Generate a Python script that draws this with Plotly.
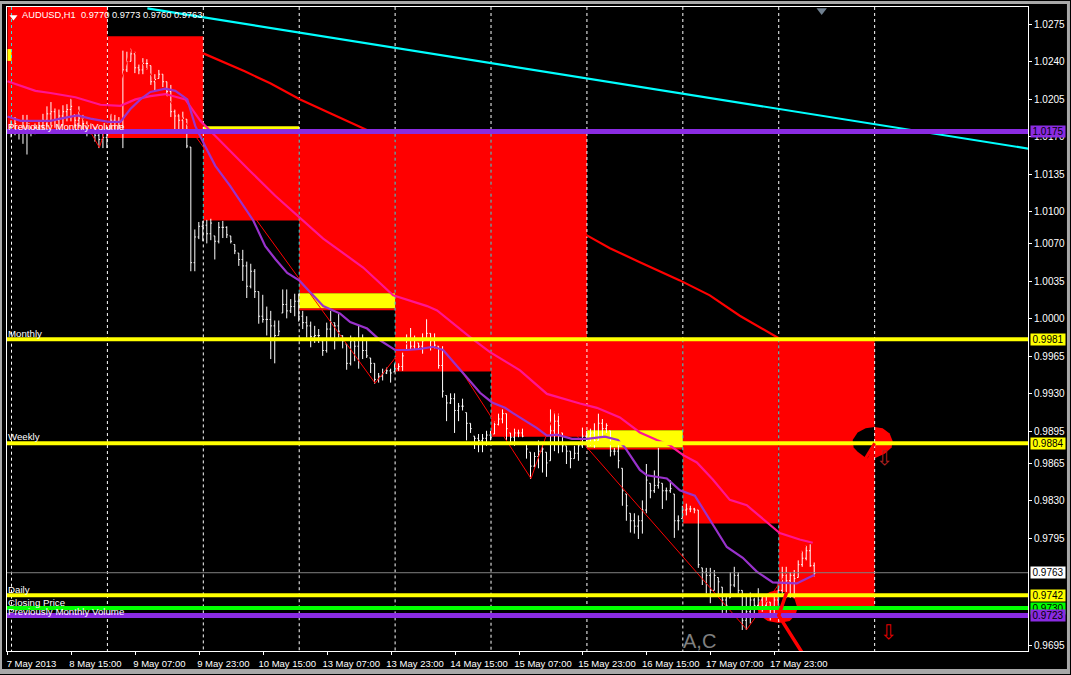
import plotly.graph_objects as go

# ---------- hourly bars ----------
bar_high = [
 1.0186,1.0189,1.0178,1.0191,1.0191,1.0180,1.0183,1.0185,1.0192,1.0199,
 1.0203,1.0197,1.0196,1.0200,1.0201,1.0206,1.0191,1.0199,1.0191,1.0185,
 1.0183,1.0180,1.0177,1.0175,1.0180,1.0192,1.0191,1.0189,1.0251,1.0250,
 1.0253,1.0250,1.0238,1.0244,1.0243,1.0237,1.0229,1.0233,1.0229,1.0222,
 1.0219,1.0196,1.0192,1.0194,1.0187,1.0161,1.0084,1.0091,1.0092,1.0093,
 1.0094,1.0078,1.0091,1.0092,1.0087,1.0078,1.0070,1.0062,1.0065,1.0054,
 1.0052,1.0047,1.0026,1.0023,1.0012,1.0008,0.9999,0.9999,1.0028,1.0028,
 1.0019,1.0024,1.0024,1.0008,1.0003,0.9998,0.9994,0.9991,0.9980,0.9997,
 1.0008,0.9997,1.0005,0.9985,0.9977,0.9985,0.9983,0.9994,0.9986,0.9980,
 0.9964,0.9959,0.9950,0.9954,0.9955,0.9954,0.9959,0.9959,0.9969,0.9986,
 0.9992,0.9985,0.9978,0.9987,1.0001,0.9987,0.9987,0.9975,0.9975,0.9929,
 0.9931,0.9931,0.9922,0.9926,0.9913,0.9903,0.9891,0.9893,0.9893,0.9896,
 0.9896,0.9905,0.9912,0.9916,0.9912,0.9894,0.9898,0.9897,0.9898,0.9884,
 0.9876,0.9876,0.9887,0.9884,0.9876,0.9916,0.9914,0.9912,0.9894,0.9882,
 0.9877,0.9882,0.9885,0.9899,0.9896,0.9898,0.9903,0.9912,0.9907,0.9903,
 0.9896,0.9880,0.9887,0.9861,0.9837,0.9819,0.9819,0.9817,0.9831,0.9865,
 0.9847,0.9859,0.9880,0.9847,0.9843,0.9850,0.9837,0.9817,0.9826,0.9828,
 0.9826,0.9824,0.9822,0.9768,0.9768,0.9768,0.9766,0.9759,0.9750,0.9741,
 0.9764,0.9769,0.9764,0.9747,0.9741,0.9745,0.9740,0.9749,0.9741,0.9741,
 0.9736,0.9744,0.9754,0.9769,0.9769,0.9764,0.9766,0.9775,0.9784,0.9789,
 0.9790,0.9773]
bar_low = [
 1.0170,1.0172,1.0168,1.0164,1.0154,1.0171,1.0173,1.0175,1.0177,1.0180,
 1.0181,1.0179,1.0177,1.0181,1.0185,1.0185,1.0179,1.0179,1.0177,1.0171,
 1.0173,1.0166,1.0160,1.0160,1.0160,1.0175,1.0177,1.0175,1.0160,1.0231,
 1.0241,1.0230,1.0229,1.0229,1.0233,1.0219,1.0214,1.0225,1.0217,1.0208,
 1.0189,1.0175,1.0175,1.0175,1.0160,1.0045,1.0045,1.0075,1.0073,1.0071,
 1.0074,1.0056,1.0071,1.0076,1.0076,1.0071,1.0061,1.0050,1.0036,1.0020,
 1.0029,1.0020,0.9996,0.9997,0.9985,0.9963,0.9959,0.9985,1.0006,1.0001,
 1.0006,1.0003,0.9998,0.9991,0.9983,0.9974,0.9978,0.9978,0.9966,0.9969,
 0.9982,0.9972,0.9983,0.9973,0.9953,0.9957,0.9961,0.9954,0.9963,0.9964,
 0.9950,0.9940,0.9941,0.9943,0.9949,0.9941,0.9951,0.9952,0.9952,0.9971,
 0.9972,0.9972,0.9972,0.9968,0.9982,0.9971,0.9973,0.9954,0.9927,0.9905,
 0.9921,0.9894,0.9905,0.9915,0.9887,0.9894,0.9879,0.9876,0.9876,0.9882,
 0.9887,0.9893,0.9901,0.9903,0.9887,0.9884,0.9882,0.9890,0.9890,0.9870,
 0.9851,0.9862,0.9861,0.9857,0.9853,0.9868,0.9877,0.9875,0.9876,0.9865,
 0.9861,0.9870,0.9868,0.9880,0.9885,0.9882,0.9880,0.9887,0.9891,0.9894,
 0.9872,0.9873,0.9861,0.9826,0.9812,0.9801,0.9800,0.9795,0.9800,0.9819,
 0.9833,0.9838,0.9842,0.9823,0.9831,0.9838,0.9796,0.9803,0.9814,0.9817,
 0.9820,0.9819,0.9768,0.9752,0.9744,0.9735,0.9747,0.9741,0.9726,0.9726,
 0.9740,0.9750,0.9744,0.9710,0.9710,0.9716,0.9722,0.9731,0.9727,0.9731,
 0.9719,0.9722,0.9733,0.9744,0.9740,0.9740,0.9740,0.9759,0.9769,0.9775,
 0.9769,0.9760]
bar_close = [
 1.0177,1.0183,1.0175,1.0185,1.0177,1.0175,1.0179,1.0181,1.0186,1.0192,
 1.0194,1.0186,1.0190,1.0194,1.0196,1.0199,1.0186,1.0188,1.0183,1.0177,
 1.0177,1.0172,1.0168,1.0170,1.0173,1.0186,1.0185,1.0181,1.0233,1.0241,
 1.0248,1.0235,1.0233,1.0239,1.0239,1.0222,1.0224,1.0229,1.0222,1.0213,
 1.0194,1.0190,1.0186,1.0188,1.0162,1.0053,1.0077,1.0087,1.0088,1.0080,
 1.0090,1.0073,1.0086,1.0086,1.0079,1.0073,1.0064,1.0056,1.0050,1.0031,
 1.0045,1.0026,1.0003,1.0000,1.0000,0.9994,0.9985,0.9989,1.0014,1.0008,
 1.0012,1.0017,1.0003,0.9997,0.9994,0.9984,0.9985,0.9985,0.9971,0.9991,
 0.9997,0.9994,0.9989,0.9980,0.9959,0.9980,0.9975,0.9982,0.9971,0.9966,
 0.9959,0.9944,0.9947,0.9950,0.9952,0.9950,0.9954,0.9956,0.9966,0.9982,
 0.9975,0.9982,0.9975,0.9980,0.9987,0.9980,0.9976,0.9957,0.9933,0.9922,
 0.9926,0.9915,0.9919,0.9919,0.9903,0.9898,0.9889,0.9887,0.9889,0.9892,
 0.9890,0.9902,0.9907,0.9912,0.9898,0.9890,0.9894,0.9894,0.9891,0.9879,
 0.9863,0.9872,0.9877,0.9879,0.9866,0.9896,0.9905,0.9901,0.9882,0.9877,
 0.9870,0.9875,0.9882,0.9891,0.9891,0.9894,0.9887,0.9903,0.9898,0.9901,
 0.9877,0.9877,0.9868,0.9840,0.9826,0.9812,0.9807,0.9812,0.9822,0.9850,
 0.9840,0.9845,0.9848,0.9840,0.9840,0.9842,0.9812,0.9812,0.9822,0.9823,
 0.9823,0.9822,0.9771,0.9764,0.9761,0.9747,0.9761,0.9755,0.9738,0.9733,
 0.9752,0.9761,0.9747,0.9719,0.9727,0.9738,0.9733,0.9738,0.9733,0.9736,
 0.9729,0.9738,0.9747,0.9761,0.9756,0.9761,0.9758,0.9771,0.9777,0.9784,
 0.9770,0.9763]
bar_open = [
 1.0180,1.0177,1.0178,1.0175,1.0185,1.0177,1.0175,1.0179,1.0181,1.0186,
 1.0192,1.0194,1.0186,1.0190,1.0194,1.0196,1.0191,1.0186,1.0188,1.0183,
 1.0177,1.0177,1.0172,1.0168,1.0170,1.0175,1.0186,1.0185,1.0181,1.0233,
 1.0241,1.0248,1.0235,1.0233,1.0239,1.0237,1.0222,1.0225,1.0229,1.0222,
 1.0213,1.0194,1.0190,1.0186,1.0187,1.0161,1.0053,1.0077,1.0087,1.0088,
 1.0080,1.0078,1.0073,1.0086,1.0086,1.0078,1.0070,1.0062,1.0056,1.0050,
 1.0031,1.0045,1.0026,1.0003,1.0000,1.0000,0.9994,0.9985,1.0006,1.0014,
 1.0008,1.0012,1.0017,1.0003,0.9997,0.9994,0.9984,0.9985,0.9980,0.9971,
 0.9991,0.9997,0.9994,0.9985,0.9977,0.9959,0.9980,0.9975,0.9982,0.9971,
 0.9964,0.9959,0.9944,0.9947,0.9950,0.9952,0.9951,0.9954,0.9956,0.9971,
 0.9982,0.9975,0.9978,0.9975,0.9982,0.9987,0.9980,0.9975,0.9957,0.9929,
 0.9922,0.9926,0.9915,0.9919,0.9913,0.9903,0.9891,0.9889,0.9887,0.9889,
 0.9892,0.9893,0.9902,0.9907,0.9912,0.9894,0.9890,0.9894,0.9894,0.9884,
 0.9876,0.9863,0.9872,0.9877,0.9876,0.9868,0.9896,0.9905,0.9894,0.9882,
 0.9877,0.9870,0.9875,0.9882,0.9891,0.9891,0.9894,0.9887,0.9903,0.9898,
 0.9896,0.9877,0.9877,0.9861,0.9837,0.9819,0.9812,0.9807,0.9812,0.9822,
 0.9847,0.9840,0.9845,0.9847,0.9840,0.9840,0.9837,0.9812,0.9814,0.9822,
 0.9823,0.9823,0.9822,0.9768,0.9764,0.9761,0.9747,0.9759,0.9750,0.9738,
 0.9740,0.9752,0.9761,0.9747,0.9719,0.9727,0.9738,0.9733,0.9738,0.9733,
 0.9736,0.9729,0.9738,0.9747,0.9761,0.9756,0.9761,0.9759,0.9771,0.9777,
 0.9784,0.9770]

# ---------- moving averages and trend lines: bar number, price ----------
pink_x = [-1,2.25,6,9.75,16,22.25,27.25,31,34.75,38.5,43.5,47.25,53.5,59.75,66,72.25,78,88,95.5,104,106.5,
          114.75,119.75,127.25,134,142.25,146.5,152.25,157.25,161.5,164.75,168,171.5,175.5,179.75,184,189,192.25,197.25,200.5]
pink_y = [1.0222,1.0218,1.0213,1.0211,1.0207,1.0200,1.0199,1.0205,1.0208,1.0210,1.0205,1.0185,1.0161,1.0138,1.0115,1.0094,1.0075,1.0048,1.0022,1.0012,1.0008,
          0.9983,0.9969,0.9952,0.9930,0.9921,0.9917,0.9908,0.9894,0.9887,0.9882,0.9873,0.9866,0.9850,0.9831,0.9826,0.9810,0.9800,0.9794,0.9791]
violet_x = [-1,2.25,5.5,9.75,13.5,16.5,19.75,24.25,27.25,29.75,32.25,34.75,38.5,41,44,46,48.5,51,54.75,57.25,60.5,63.5,66,69,72,74.75,78,82.25,84.75,89,92.25,96,99,102.25,105.5,108,
            113,117.25,120.25,123.5,125.5,131.5,134,136.5,140.25,144,148.5,151.75,153.5,157.25,159,164,167.25,171,175.5,179,183,186.5,190.5,196.5,201]
violet_y = [1.0189,1.0185,1.0185,1.0185,1.0188,1.0190,1.0187,1.0184,1.0184,1.0196,1.0205,1.0212,1.0215,1.0213,1.0205,1.0180,1.0161,1.0143,1.0124,1.0110,1.0092,1.0068,1.0056,1.0043,1.0036,1.0025,1.0012,1.0005,0.9997,0.9991,0.9980,0.9971,0.9971,0.9972,0.9974,0.9971,
            0.9949,0.9931,0.9922,0.9917,0.9912,0.9898,0.9891,0.9892,0.9888,0.9888,0.9890,0.9887,0.9880,0.9859,0.9854,0.9851,0.9840,0.9835,0.9808,0.9787,0.9777,0.9764,0.9754,0.9753,0.9761]
slow_x = [48,53.5,58.5,64.75,72.25,79.75,89.75,144,149.75,157.25,167.25,174.75,182.25,192]
slow_y = [1.0248,1.0239,1.0231,1.0220,1.0205,1.0192,1.0175,1.0078,1.0066,1.0053,1.0036,1.0022,1.0003,0.9982]
zigzag_x = [15,22,30,91,104,130,136,184,199]
zigzag_y = [1.0206,1.0160,1.0253,0.9940,1.0001,0.9851,0.9914,0.9710,0.9789]
cyan_x = [34,254.5]
cyan_y = [1.0290,1.0159]
arrow_x = [197.75,192,194]
arrow_y = [0.9689,0.9723,0.9745]
arrow2_x = [216,213.75]
arrow2_y = [0.9884,0.9870]

# ---------- horizontal levels ----------
level_names = ["Previously Monthly Volume","Monthly","Weekly","Daily","Closing Price","Previously Monthly Volume"]
level_prices = [1.0175,0.9981,0.9884,0.9742,0.9730,0.9723]
level_colors = ["#8a2be2","#ffff00","#ffff00","#ffff00","#00ff00","#8a2be2"]
level_widths = [5,4,4,4,4,5]
level_label_y = [1.0180,0.9986,0.9890,0.9747,0.9735,0.9727]
current_price = 0.9763

# ---------- session boxes: first bar, last bar, low, high ----------
red_start = [-1,24,48,72,96,120,144,168,192,72,144]
red_end   = [24,48,72,96,120,144,168,192,216,96,168]
red_low   = [1.0173,1.0169,1.0092,1.0024,0.9951,0.9890,0.9896,0.9809,0.9730,1.0008,0.9878]
red_high  = [1.0300,1.0264,1.0176,1.0176,1.0176,1.0176,0.9981,0.9981,0.9981,1.0010,0.9880]
yel_start = [-1,48,72,144]
yel_end   = [0,72,96,168]
yel_low   = [1.0241,1.0175,1.0010,0.9880]
yel_high  = [1.0252,1.0180,1.0024,0.9896]

# ---------- sector outlines ----------
pie_low_x = [192,189.75,187.75,186.5,187.25,189.25,192,194.75,196.25,196.75,196,194.25]
pie_low_y = [0.9747,0.9745,0.9740,0.9731,0.9723,0.9718,0.9716,0.9718,0.9724,0.9731,0.9740,0.9745]
pie_low_hole_x = [192,194.25,196,196.5,192]
pie_low_hole_y = [0.9746,0.9744,0.9738,0.9732,0.9732]
pie_top_left_x = [216,213.75,211.75,210.5,210.75,211.75,213.5,214.25,216]
pie_top_left_y = [0.9899,0.9898,0.9894,0.9887,0.9880,0.9876,0.9871,0.9870,0.9884]
pie_top_right_x = [216,218,219.75,220.5,220.25,218.5,216]
pie_top_right_y = [0.9899,0.9898,0.9893,0.9886,0.9880,0.9874,0.9870]

# ---------- axes ----------
x_ticks = [-1,15,31,47,63,79,95,111,127,143,159,175,191]
x_labels = ["7 May 2013","8 May 15:00","9 May 07:00","9 May 23:00","10 May 15:00","13 May 07:00","13 May 23:00",
            "14 May 15:00","15 May 07:00","15 May 23:00","16 May 15:00","17 May 07:00","17 May 23:00"]
y_ticks = [1.0275,1.0240,1.0205,1.0170,1.0135,1.0100,1.0070,1.0035,1.0000,0.9965,0.9930,0.9895,0.9865,0.9830,0.9795,0.9695]
y_labels = ["%.4f" % v for v in y_ticks]

# day separators: bar, upper price, lower price
TOP, BOT = 1.02913, 0.96899
white_x   = [0,24,48,48,72,72,96,96,120,120,144,168,168,192,192,216]
white_top = [1.0173,TOP,TOP,1.0092,TOP,1.0024,TOP,0.9951,TOP,0.9890,TOP,TOP,0.9809,TOP,0.9731,TOP]
white_bot = [BOT,BOT,1.0169,BOT,1.0173,BOT,1.0173,BOT,1.0173,BOT,BOT,0.9981,BOT,0.9981,BOT,BOT]
cyan_sep_x   = [0,48,72,96,120,168,192]
cyan_sep_top = [TOP,1.0169,1.0173,1.0173,1.0173,0.9981,0.9981]
cyan_sep_bot = [1.0173,1.0092,1.0024,0.9951,0.9890,0.9809,0.9731]

X0, X1 = -1.125, 254.375
LEFT, RIGHT, UP, DOWN = 7, 1029, 6, 652
FONT = "Liberation Sans"


def segs(xs, tops, bots):
    ox, oy = [], []
    for x, t, b in zip(xs, tops, bots):
        ox += [x, x, None]
        oy += [t, b, None]
    return ox, oy


def poly(xs, ys):
    return "M " + " L ".join(f"{x},{y}" for x, y in zip(xs, ys)) + " Z"


def px(v):
    return (v - LEFT) / (RIGHT - LEFT)


def py(v):
    return (DOWN - v) / (DOWN - UP)


fig = go.Figure()
sx, sy = segs(white_x, white_top, white_bot)

fig.add_trace(go.Ohlc(x=list(range(len(bar_open))), open=bar_open, high=bar_high, low=bar_low, close=bar_close,
                      increasing_line_color="#ffffff", decreasing_line_color="#ffffff", line_width=1, tickwidth=0.3,
                      hoverinfo="skip", showlegend=False))
fig.add_trace(go.Scatter(x=sx, y=sy, mode="lines", line=dict(color="#ffffff", width=1, dash="3px,3px"), hoverinfo="skip"))
cx, cy = segs(cyan_sep_x, cyan_sep_top, cyan_sep_bot)
fig.add_trace(go.Scatter(x=cx, y=cy, mode="lines", line=dict(color="#33dddd", width=1, dash="3px,3px"), hoverinfo="skip"))
fig.add_trace(go.Scatter(x=slow_x, y=slow_y, mode="lines", line=dict(color="#ff0000", width=2.2), hoverinfo="skip"))
fig.add_trace(go.Scatter(x=zigzag_x, y=zigzag_y, mode="lines", line=dict(color="#ff0000", width=1), hoverinfo="skip"))
fig.add_trace(go.Scatter(x=pink_x, y=pink_y, mode="lines", line=dict(color="#ff1493", width=2.2), hoverinfo="skip"))
fig.add_trace(go.Scatter(x=violet_x, y=violet_y, mode="lines", line=dict(color="#9932cc", width=2.2), hoverinfo="skip"))
fig.add_trace(go.Scatter(x=[X0, X1], y=[current_price, current_price], mode="lines", line=dict(color="#808080", width=1), hoverinfo="skip"))
fig.add_trace(go.Scatter(x=cyan_x, y=cyan_y, mode="lines", line=dict(color="#00ffff", width=2.2), hoverinfo="skip"))
for p, c, w in zip(level_prices, level_colors, level_widths):
    fig.add_trace(go.Scatter(x=[X0, X1], y=[p, p], mode="lines", line=dict(color=c, width=w), hoverinfo="skip"))
fig.add_trace(go.Scatter(x=arrow_x, y=arrow_y, mode="lines", line=dict(color="#ff0000", width=3.5), hoverinfo="skip"))
fig.add_trace(go.Scatter(x=arrow2_x, y=arrow2_y, mode="lines", line=dict(color="#ff0000", width=3), hoverinfo="skip"))
fig.add_trace(go.Scatter(x=[0.5], y=[1.0282], mode="markers",
                         marker=dict(symbol="triangle-down", size=7, color="#ffffff"), hoverinfo="skip"))
fig.add_trace(go.Scatter(x=[202.75], y=[1.0288], mode="markers",
                         marker=dict(symbol="triangle-down", size=9, color="#708090"), hoverinfo="skip"))

shapes = []
for s, e, l, h in zip(red_start, red_end, red_low, red_high):
    shapes.append(dict(type="rect", xref="x", yref="y", x0=s, x1=e, y0=l, y1=h,
                       fillcolor="#ff0000", line_width=0, layer="below"))
for s, e, l, h in zip(yel_start, yel_end, yel_low, yel_high):
    shapes.append(dict(type="rect", xref="x", yref="y", x0=s, x1=e, y0=l, y1=h,
                       fillcolor="#ffff00", line_width=0, layer="below"))
shapes.append(dict(type="path", xref="x", yref="y", path=poly(pie_low_x, pie_low_y), fillcolor="#ff0000", line_width=0, layer="below"))
shapes.append(dict(type="path", xref="x", yref="y", path=poly(pie_low_hole_x, pie_low_hole_y), fillcolor="#000000", line_width=0, layer="below"))
shapes.append(dict(type="path", xref="x", yref="y", path=poly(pie_top_left_x, pie_top_left_y), fillcolor="#000000", line_width=0, layer="below"))
shapes.append(dict(type="path", xref="x", yref="y", path=poly(pie_top_right_x, pie_top_right_y), fillcolor="#ff0000", line_width=0, layer="below"))
# black plate behind the chart title
shapes.append(dict(type="rect", xref="paper", yref="paper", x0=px(22), x1=px(204), y0=py(20), y1=py(8),
                   fillcolor="#000000", line_width=0, layer="below"))
# window frame
for (a, b, c, d) in [(0, 1071, 0, 3), (0, 1071, 670, 675), (0, 2, 0, 675), (1068, 1071, 0, 675)]:
    shapes.append(dict(type="rect", xref="paper", yref="paper", x0=px(a), x1=px(b), y0=py(d), y1=py(c),
                       fillcolor="#a8a8a8", line_width=0, layer="above"))

ann = []
for name, y in zip(level_names, level_label_y):
    ann.append(dict(x=X0, y=y, xref="x", yref="y", text=name, showarrow=False, xanchor="left", yanchor="middle",
                    xshift=-1, font=dict(family=FONT, size=9.7, color="#ffffff")))
ann.append(dict(x=px(21), y=py(14), xref="paper", yref="paper", text="AUDUSD,H1  0.9770 0.9773 0.9760 0.9763", showarrow=False,
                xanchor="left", yanchor="middle", borderpad=0, font=dict(family=FONT, size=9.3, color="#ffffff")))
ann.append(dict(x=168, y=0.9699, xref="x", yref="y", text="A,C", showarrow=False, xanchor="left", yanchor="middle",
                xshift=-2, font=dict(family=FONT, size=20, color="#808080")))
ann.append(dict(x=218.5, y=0.9870, xref="x", yref="y", text="⇩", showarrow=False,
                font=dict(family="DejaVu Sans", size=20, color="#b02020")))
ann.append(dict(x=219.5, y=0.9708, xref="x", yref="y", text="⇩", showarrow=False,
                font=dict(family="DejaVu Sans", size=20, color="#e00000")))
box_labels = [(1.0175, "#8a2be2"), (0.9981, "#ffff00"), (0.9884, "#ffff00"), (0.9763, "#ffffff"),
              (0.9742, "#ffff00"), (0.9730, "#00ff00"), (0.9723, "#8a2be2")]
for p, c in box_labels:
    ann.append(dict(x=1, y=p, xref="paper", yref="y", text="%.4f" % p, showarrow=False, xanchor="left", yanchor="middle",
                    xshift=2, bgcolor=c, width=34, height=11, borderpad=0, align="center",
                    font=dict(family=FONT, size=10, color="#000000")))

fig.update_layout(
    width=1071, height=675, autosize=False, showlegend=False,
    margin=dict(l=LEFT, r=1071 - RIGHT, t=UP, b=675 - DOWN, pad=0),
    paper_bgcolor="#000000", plot_bgcolor="#000000",
    shapes=shapes, annotations=ann,
    xaxis=dict(range=[X0, X1], tickmode="array", tickvals=x_ticks, ticktext=x_labels, ticks="outside", ticklen=3,
               tickcolor="#ffffff", tickfont=dict(family=FONT, size=9.5, color="#ffffff"), tickangle=0,
               ticklabelshift=24, ticklabelstandoff=1, showgrid=False, zeroline=False, showline=True, linecolor="#ffffff",
               linewidth=1, mirror=True, rangeslider=dict(visible=False)),
    yaxis=dict(range=[BOT, TOP], side="right", tickmode="array", tickvals=y_ticks, ticktext=y_labels, ticks="outside",
               ticklen=3, tickcolor="#ffffff", tickfont=dict(family=FONT, size=10, color="#ffffff"),
               showgrid=False, zeroline=False, showline=True, linecolor="#ffffff", linewidth=1, mirror=True),
)
fig.write_html("out.html", config=dict(displayModeBar=False),
               post_script="document.body.style.margin='0';document.body.style.background='#000';"
                           "document.querySelectorAll('.ohlclayer').forEach(function(e){e.setAttribute('transform','translate(-0.5,0.5)');});")
